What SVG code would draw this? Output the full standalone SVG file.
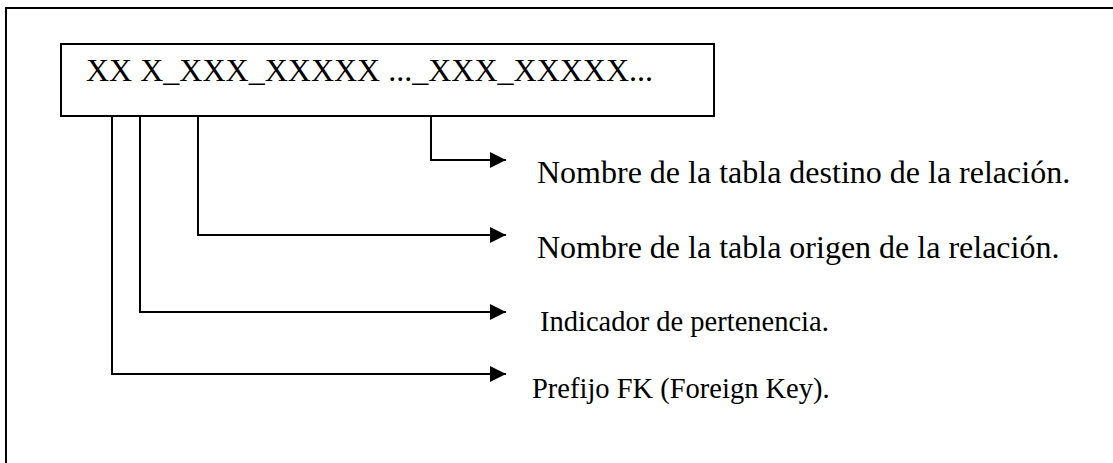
<svg xmlns="http://www.w3.org/2000/svg" width="1113" height="463" viewBox="0 0 1113 463">
<style>
.frame{fill:none;stroke:#000;stroke-width:2}
.box{fill:#fff;stroke:#000;stroke-width:2}
.ln{fill:none;stroke:#000;stroke-width:2}
.t{font-family:"Liberation Serif","Times New Roman",serif;fill:#000}
.code{font-size:32px}
.lbl{font-size:32px}
.lbl2{font-size:28.5px}
</style>
<defs>
<marker id="ah" markerWidth="16" markerHeight="16" refX="16" refY="8" orient="auto" markerUnits="userSpaceOnUse">
<path d="M0,0 L16,8 L0,16 Z" fill="#000"/>
</marker>
</defs>
<rect width="1113" height="463" fill="#fff"/>
<path class="frame" d="M6,463 V8 H1113"/>
<g id="node-code">
<rect class="box" x="61" y="44" width="653" height="72"/>
<text class="t code" x="86" y="81">XX X_XXX_XXXXX ..._XXX_XXXXX...</text>
</g>
<g id="connectors">
<path class="ln" d="M431,116 V160 H506" marker-end="url(#ah)"/>
<path class="ln" d="M198,116 V235 H506" marker-end="url(#ah)"/>
<path class="ln" d="M140,116 V312 H506" marker-end="url(#ah)"/>
<path class="ln" d="M112,116 V374 H506" marker-end="url(#ah)"/>
</g>
<g id="label-destino"><text class="t lbl" x="537" y="183">Nombre de la tabla destino de la relación.</text></g>
<g id="label-origen"><text class="t lbl" x="537" y="258">Nombre de la tabla origen de la relación.</text></g>
<g id="label-pertenencia"><text class="t lbl2" x="540" y="331">Indicador de pertenencia.</text></g>
<g id="label-prefijo"><text class="t lbl2" x="532" y="398">Prefijo FK (Foreign Key).</text></g>
</svg>
